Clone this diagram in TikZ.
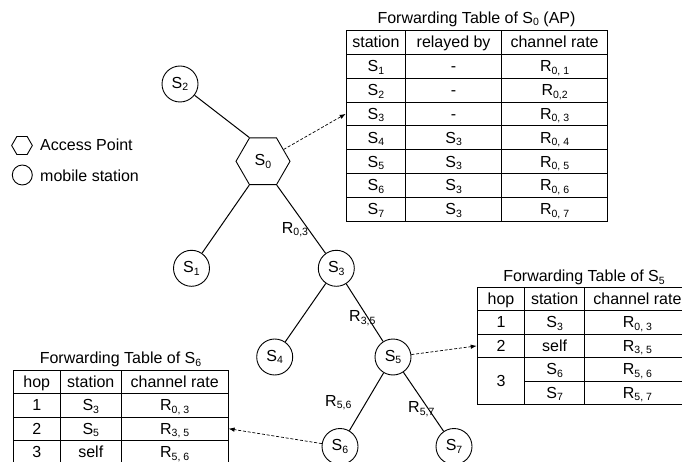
\documentclass[tikz,border=0pt]{standalone}
\usepackage{fontspec}
\setmainfont{Liberation Sans}
\usetikzlibrary{shapes.geometric,arrows.meta}
\newcommand{\sbs}[1]{\raisebox{-2.5pt}{\fontsize{10.5pt}{12pt}\selectfont #1}}
\begin{document}
\begin{tikzpicture}[x=1pt,y=-1pt,
  every node/.style={font=\fontsize{16pt}{19pt}\selectfont},
  ms/.style={circle, draw, line width=0.9pt, minimum size=36pt, inner sep=0pt},
  ap/.style={regular polygon, regular polygon sides=6, draw, line width=0.9pt, minimum size=54pt, inner sep=0pt},
  link/.style={line width=1pt},
  fwd/.style={line width=0.7pt, dash pattern=on 3pt off 1.8pt, -{Latex[length=6pt,width=4.5pt]}},
  cell/.style={draw, line width=0.9pt, inner sep=0pt, anchor=north west, text height=12pt, text depth=1pt},
  ra/.style={cell, minimum height=23.84pt},
  rb/.style={cell, minimum height=23.5pt},
  rc/.style={cell, minimum height=23.3pt},
  lbl/.style={anchor=base west, inner sep=0pt},
  ttl/.style={anchor=base, inner sep=0pt}]
\useasboundingbox (0,0) rectangle (682,462);
\clip (0,0) rectangle (682,462);

% legend
\node[ap, minimum size=20.7pt] (legAP) at (22,145.5) {};
\node[lbl] (legAPt) at (40,150.7) {Access Point};
\node[ms, minimum size=20pt] (legMS) at (22.3,175) {};
\node[lbl] (legMSt) at (40,181.5) {mobile station};

% tree nodes
\node[ap] (S0) at (263,161.3) {S\sbs{0}};
\node[ms] (S2) at (180,84) {S\sbs{2}};
\node[ms] (S1) at (191.5,268.3) {S\sbs{1}};
\node[ms] (S3) at (336.3,268.3) {S\sbs{3}};
\node[ms] (S4) at (274.7,357) {S\sbs{4}};
\node[ms] (S5) at (393,357) {S\sbs{5}};
\node[ms] (S6) at (340,446.5) {S\sbs{6}};
\node[ms] (S7) at (454,446.5) {S\sbs{7}};

\draw[link] (S2) -- (S0.120);
\draw[link] (S0.240) -- (S1);
\draw[link] (S0.300) -- (S3);
\draw[link] (S3) -- (S4);
\draw[link] (S3) -- (S5);
\draw[link] (S5) -- (S6);
\draw[link] (S5) -- (S7);

\node[lbl] (l03) at (281.7,233.3) {R\sbs{0,3}};
\node[lbl] (l35) at (349,321.7) {R\sbs{3,5}};
\node[lbl] (l56) at (325,406) {R\sbs{5,6}};
\node[lbl] (l57) at (408,412.7) {R\sbs{5,7}};

% table of S0
\node[ttl] (tA) at (476.5,23.5) {Forwarding Table of S\sbs{0} (AP)};
\node[ra, minimum width=59.6pt] (a0a) at (345.7,30) {station};
\node[ra, minimum width=95.7pt] (a0b) at (405.3,30) {relayed by};
\node[ra, minimum width=106.3pt] (a0c) at (501,30) {channel rate};
\node[ra, minimum width=59.6pt] (a1a) at (345.7,53.84) {S\sbs{1}};
\node[ra, minimum width=95.7pt] (a1b) at (405.3,53.84) {-};
\node[ra, minimum width=106.3pt] (a1c) at (501,53.84) {R\sbs{0, 1}};
\node[ra, minimum width=59.6pt] (a2a) at (345.7,77.68) {S\sbs{2}};
\node[ra, minimum width=95.7pt] (a2b) at (405.3,77.68) {-};
\node[ra, minimum width=106.3pt] (a2c) at (501,77.68) {R\sbs{0,2}};
\node[ra, minimum width=59.6pt] (a3a) at (345.7,101.52) {S\sbs{3}};
\node[ra, minimum width=95.7pt] (a3b) at (405.3,101.52) {-};
\node[ra, minimum width=106.3pt] (a3c) at (501,101.52) {R\sbs{0, 3}};
\node[ra, minimum width=59.6pt] (a4a) at (345.7,125.36) {S\sbs{4}};
\node[ra, minimum width=95.7pt] (a4b) at (405.3,125.36) {S\sbs{3}};
\node[ra, minimum width=106.3pt] (a4c) at (501,125.36) {R\sbs{0, 4}};
\node[ra, minimum width=59.6pt] (a5a) at (345.7,149.2) {S\sbs{5}};
\node[ra, minimum width=95.7pt] (a5b) at (405.3,149.2) {S\sbs{3}};
\node[ra, minimum width=106.3pt] (a5c) at (501,149.2) {R\sbs{0, 5}};
\node[ra, minimum width=59.6pt] (a6a) at (345.7,173.04) {S\sbs{6}};
\node[ra, minimum width=95.7pt] (a6b) at (405.3,173.04) {S\sbs{3}};
\node[ra, minimum width=106.3pt] (a6c) at (501,173.04) {R\sbs{0, 6}};
\node[ra, minimum width=59.6pt] (a7a) at (345.7,196.88) {S\sbs{7}};
\node[ra, minimum width=95.7pt] (a7b) at (405.3,196.88) {S\sbs{3}};
\node[ra, minimum width=106.3pt] (a7c) at (501,196.88) {R\sbs{0, 7}};

% table of S5
\node[ttl] (tB) at (584,281.5) {Forwarding Table of S\sbs{5}};
\node[rb, minimum width=47.6pt] (b0a) at (476.7,286.7) {hop};
\node[rb, minimum width=59.7pt] (b0b) at (524.3,286.7) {station};
\node[rb, minimum width=106pt] (b0c) at (584,286.7) {channel rate};
\node[rb, minimum width=47.6pt] (b1a) at (476.7,310.2) {1};
\node[rb, minimum width=59.7pt] (b1b) at (524.3,310.2) {S\sbs{3}};
\node[rb, minimum width=106pt] (b1c) at (584,310.2) {R\sbs{0, 3}};
\node[rb, minimum width=47.6pt] (b2a) at (476.7,333.7) {2};
\node[rb, minimum width=59.7pt] (b2b) at (524.3,333.7) {self};
\node[rb, minimum width=106pt] (b2c) at (584,333.7) {R\sbs{3, 5}};
\node[cell, minimum width=47.6pt, minimum height=47pt] (b3a) at (476.7,357.2) {3};
\node[rb, minimum width=59.7pt] (b3b) at (524.3,357.2) {S\sbs{6}};
\node[rb, minimum width=106pt] (b3c) at (584,357.2) {R\sbs{5, 6}};
\node[rb, minimum width=59.7pt] (b4b) at (524.3,380.7) {S\sbs{7}};
\node[rb, minimum width=106pt] (b4c) at (584,380.7) {R\sbs{5, 7}};

% table of S6
\node[ttl] (tC) at (120.5,363.5) {Forwarding Table of S\sbs{6}};
\node[rc, minimum width=47.3pt] (c0a) at (12.7,370) {hop};
\node[rc, minimum width=60.7pt] (c0b) at (60,370) {station};
\node[rc, minimum width=107pt] (c0c) at (120.7,370) {channel rate};
\node[rc, minimum width=47.3pt] (c1a) at (12.7,393.3) {1};
\node[rc, minimum width=60.7pt] (c1b) at (60,393.3) {S\sbs{3}};
\node[rc, minimum width=107pt] (c1c) at (120.7,393.3) {R\sbs{0, 3}};
\node[rc, minimum width=47.3pt] (c2a) at (12.7,416.6) {2};
\node[rc, minimum width=60.7pt] (c2b) at (60,416.6) {S\sbs{5}};
\node[rc, minimum width=107pt] (c2c) at (120.7,416.6) {R\sbs{3, 5}};
\node[rc, minimum width=47.3pt] (c3a) at (12.7,439.9) {3};
\node[rc, minimum width=60.7pt] (c3b) at (60,439.9) {self};
\node[rc, minimum width=107pt] (c3c) at (120.7,439.9) {R\sbs{5, 6}};

% forwarding-table pointers
\draw[fwd] (S0) -- (a3a.west);
\draw[fwd] (S5) -- (b2a.west);
\draw[fwd] (S6) -- (c2c.east);
\end{tikzpicture}
\end{document}
